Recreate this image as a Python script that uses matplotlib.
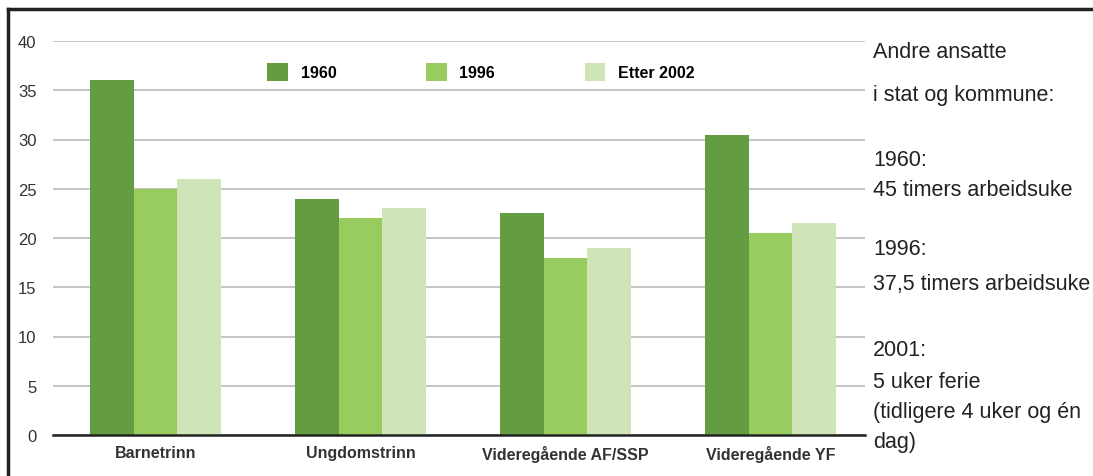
import numpy as np
import matplotlib.pyplot as plt
from matplotlib.lines import Line2D

categories = ['Barnetrinn', 'Ungdomstrinn', 'Videregående AF/SSP', 'Videregående YF']
series = ['1960', '1996', 'Etter 2002']
v1960 = [36, 24, 22.5, 30.5]
v1996 = [25, 22, 18, 20.5]
v2002 = [26, 23, 19, 21.5]
side_lines = ['Andre ansatte', 'i stat og kommune:',
              '1960:', '45 timers arbeidsuke',
              '1996:', '37,5 timers arbeidsuke',
              '2001:', '5 uker ferie', '(tidligere 4 uker og én', 'dag)']

if __name__ == '__main__':
    colors = ['#649c42', '#99cc5f', '#cfe5b7']
    plt.rcParams['font.family'] = ['Liberation Sans', 'DejaVu Sans']
    W, H = 1093, 477
    fig = plt.figure(figsize=(W / 100, H / 100), dpi=100)
    ax = fig.add_axes([53 / W, 1 - 436 / H, (865 - 53) / W, (436 - 42) / H])

    x = np.arange(len(categories))
    width = 0.212
    values = [v1960, v1996, v2002]
    for j in range(len(series)):
        ax.bar(x + (j - 1) * width, values[j], width, color=colors[j], label=series[j], zorder=2)

    ax.set_xlim(-0.5, 3.46)
    ax.set_ylim(0, 40)
    ax.set_yticks(range(0, 41, 5))
    ax.grid(axis='y', color='#c0c0c0', linewidth=1.3, zorder=0)
    ax.set_axisbelow(True)
    for s in ['top', 'right', 'left']:
        ax.spines[s].set_visible(False)
    ax.spines['bottom'].set_color('#222222')
    ax.spines['bottom'].set_linewidth(1.8)
    ax.tick_params(axis='both', length=0)
    ax.tick_params(axis='y', pad=12, labelsize=12, labelcolor='#333333')
    ax.set_xticks(x, categories, fontsize=11.5, fontweight='bold', color='#333333')
    ax.tick_params(axis='x', pad=7)

    ax.legend(loc='upper center', bbox_to_anchor=(0.527, 0.98), ncols=3, frameon=False,
              handlelength=1.3, handleheight=1.3, columnspacing=5.6, handletextpad=0.8,
              prop={'weight': 'bold', 'size': 11.5})

    # side note text
    ys = [52, 95, 160, 190, 250, 285, 350, 383, 413, 443]
    for t, yy in zip(side_lines, ys):
        fig.text(873 / W, 1 - yy / H, t, fontsize=15.5,
                 va='center', ha='left', color='#222222')

    # frame
    fig.add_artist(Line2D([8 / W, 1], [1 - 10 / H, 1 - 10 / H], color='#222222', lw=2.5))
    fig.add_artist(Line2D([8 / W, 8 / W], [0, 1 - 10 / H], color='#222222', lw=2.5))

    plt.savefig('out.png', dpi=100)
    plt.close()
